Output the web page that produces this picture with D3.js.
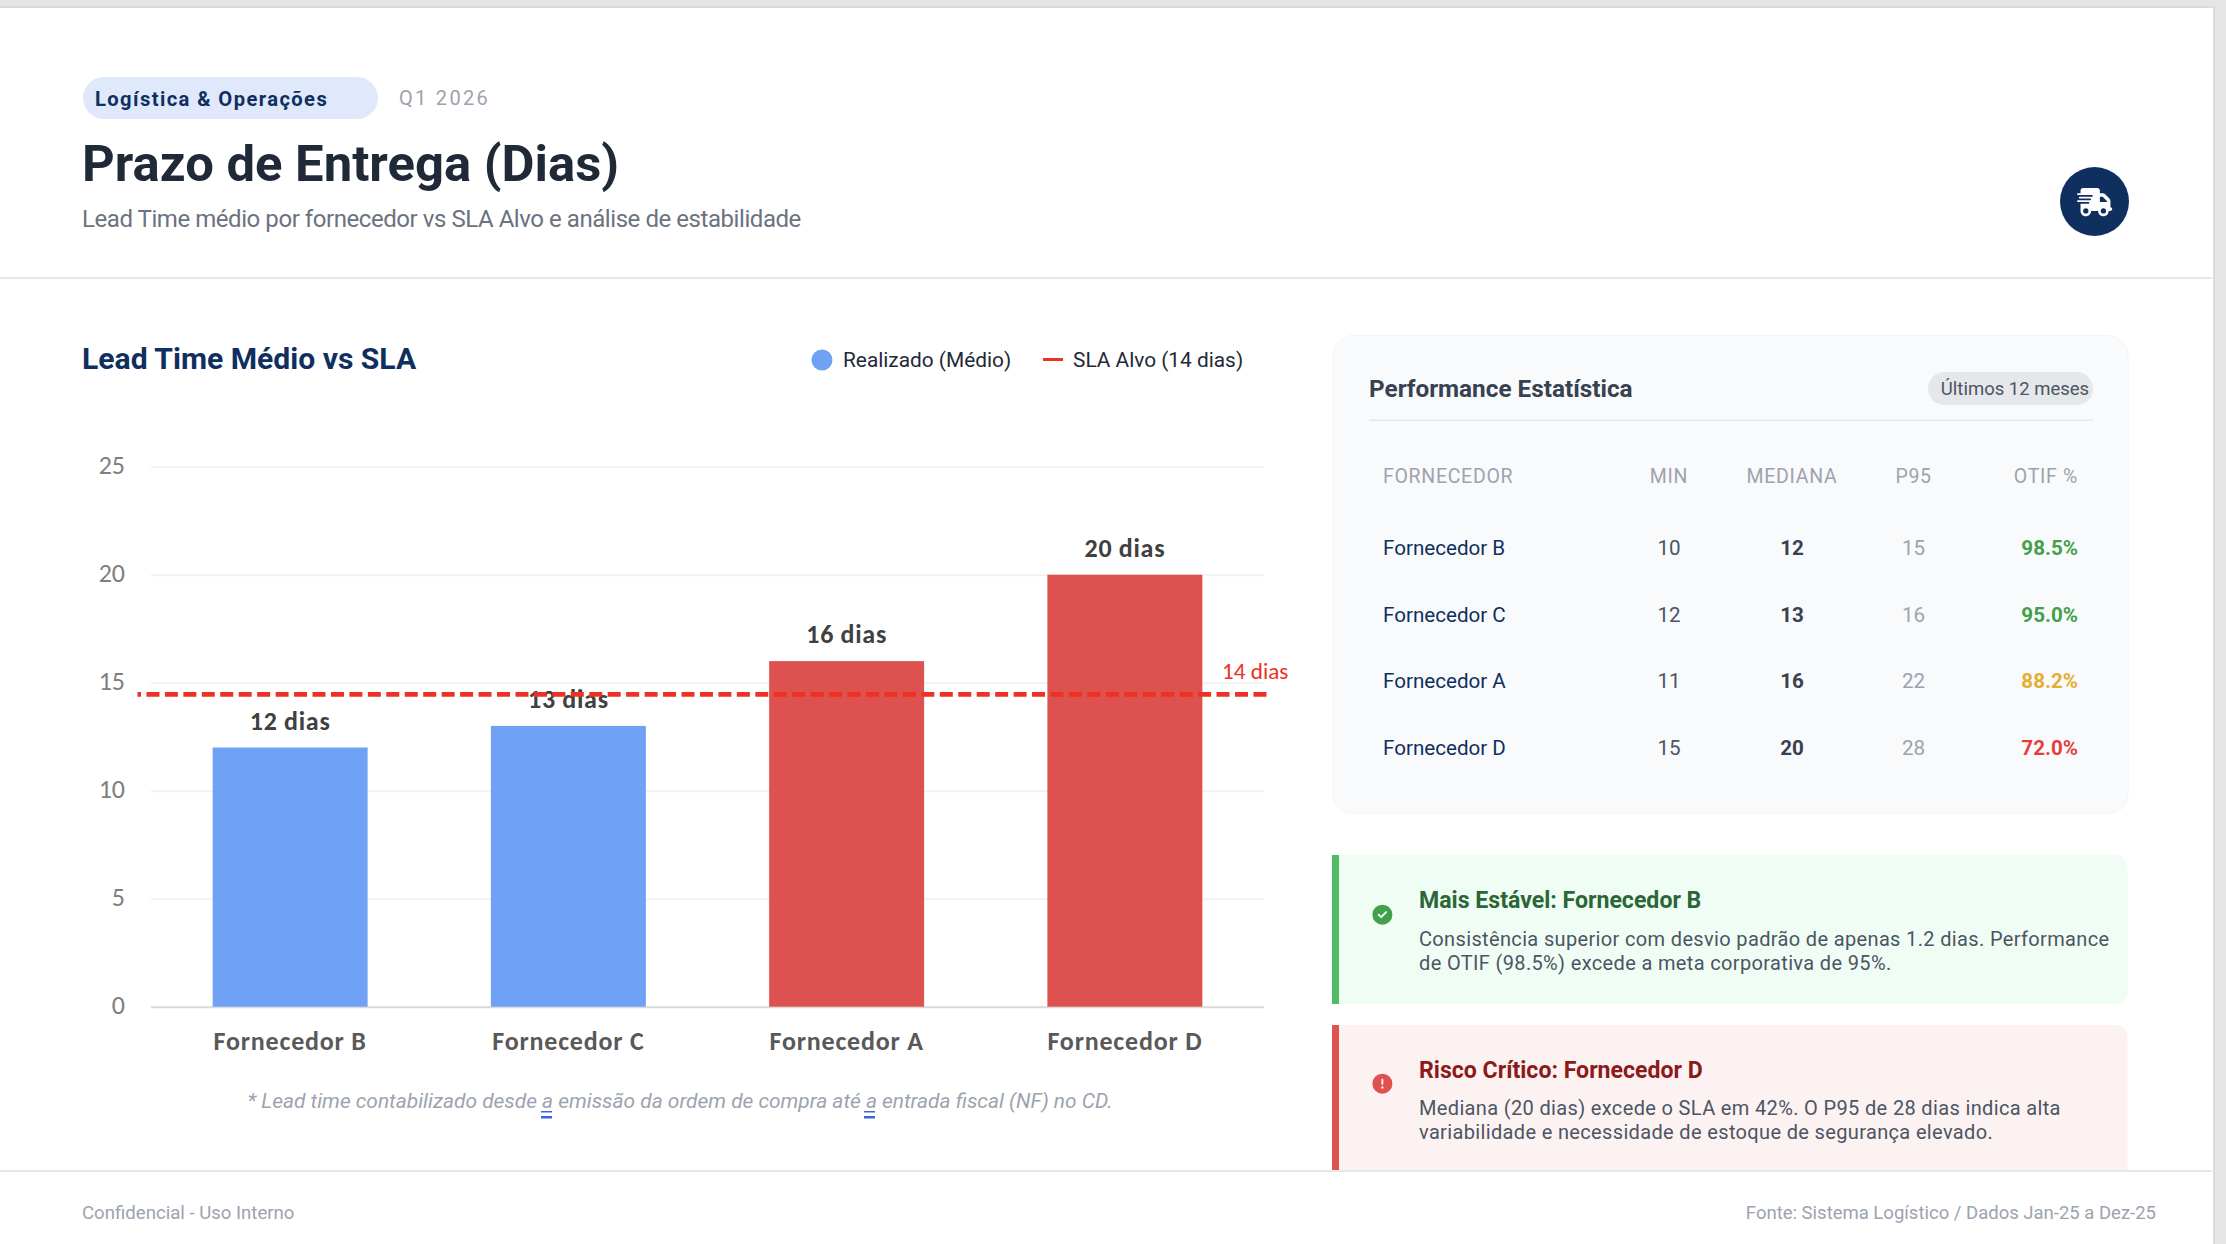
<!DOCTYPE html>
<html lang="pt">
<head>
<meta charset="utf-8">
<title>Prazo de Entrega (Dias)</title>
<script src="https://cdn.jsdelivr.net/npm/d3@7/dist/d3.min.js"></script>
<style>
html,body{margin:0;padding:0;background:#e5e5e5;overflow:hidden}
svg{display:block}
text{font-family:Roboto,sans-serif}
</style>
</head>
<body>
<div id="root"></div>
<script>
// ---- data ----
const suppliers = ["Fornecedor B", "Fornecedor C", "Fornecedor A", "Fornecedor D"];
const leadTimes = [12, 13, 16, 20];
const barColors = ["#6fa2f5", "#6fa2f5", "#dd524e", "#dd524e"];
const yTicks = [0, 5, 10, 15, 20, 25];
const slaLabelValue = 14;
const slaDrawnAt = 14.46;   // where the dashed line sits on the value axis in the picture
const tableHead = ["FORNECEDOR", "MIN", "MEDIANA", "P95", "OTIF %"];
const minDays = [10, 12, 11, 15];
const medianDays = [12, 13, 16, 20];
const p95Days = [15, 16, 22, 28];
const otif = ["98.5%", "95.0%", "88.2%", "72.0%"];
const otifColors = ["#43a04a", "#43a04a", "#e3ae33", "#e53e3e"];

const W = 2226, H = 1244;
const svg = d3.select("#root").append("svg").attr("width", W).attr("height", H).attr("viewBox", `0 0 ${W} ${H}`);

function txt(x, y, s, o = {}) {
  const t = svg.append("text").attr("x", x).attr("y", y).text(s)
    .attr("font-size", o.size || 20).attr("fill", o.fill || "#000")
    .attr("font-weight", o.weight || 400).attr("text-anchor", o.anchor || "start");
  if (o.family) t.style("font-family", o.family);
  if (o.spacing) t.style("letter-spacing", o.spacing + "px");
  if (o.italic) t.attr("font-style", "italic");
  return t;
}
function rect(x, y, w, h, fill, r = 0) {
  return svg.append("rect").attr("x", x).attr("y", y).attr("width", w).attr("height", h).attr("fill", fill).attr("rx", r).attr("ry", r);
}

// page frame
rect(0, 0, W, H, "#e5e5e5");
rect(0, 6, 2215, H - 6, "#dbdbdb");
rect(0, 8, 2213, H - 8, "#ffffff");

// header
rect(83, 77, 295, 42, "#dfe9fb", 21);
txt(95, 106, "Logística & Operações", {size: 20.2, weight: 700, fill: "#0f2f5f", spacing: 1.4});
txt(399, 104.5, "Q1 2026", {size: 20, fill: "#9ca3af", spacing: 2.3});
txt(82, 181, "Prazo de Entrega (Dias)", {size: 50.8, weight: 700, fill: "#1f2937"});
txt(82, 227, "Lead Time médio por fornecedor vs SLA Alvo e análise de estabilidade", {size: 24, fill: "#6b7280", spacing: -0.44});
rect(0, 277, 2212, 2, "#e5e7eb");
svg.append("circle").attr("cx", 2094.5).attr("cy", 201.5).attr("r", 34.5).attr("fill", "#0f2f5f");
svg.append("path").attr("transform", "translate(2077,188) scale(0.055)").attr("fill", "#fff")
  .attr("d", "M112 0C85.5 0 64 21.5 64 48V96H16c-8.8 0-16 7.2-16 16s7.2 16 16 16H64 272c8.8 0 16 7.2 16 16s-7.2 16-16 16H64 48c-8.8 0-16 7.2-16 16s7.2 16 16 16H64 240c8.8 0 16 7.2 16 16s-7.2 16-16 16H64 16c-8.8 0-16 7.2-16 16s7.2 16 16 16H64 208c8.8 0 16 7.2 16 16s-7.2 16-16 16H64V416c0 53 43 96 96 96s96-43 96-96H384c0 53 43 96 96 96s96-43 96-96h32c17.7 0 32-14.3 32-32s-14.3-32-32-32V288 256 237.3c0-17-6.7-33.3-18.7-45.3L512 114.7c-12-12-28.3-18.7-45.3-18.7H416V48c0-26.5-21.5-48-48-48H112zM544 237.3V256H416V160h50.7L544 237.3zM160 368a48 48 0 1 1 0 96 48 48 0 1 1 0-96zm272 48a48 48 0 1 1 96 0 48 48 0 1 1 -96 0z");

// chart title + legend
txt(82, 369, "Lead Time Médio vs SLA", {size: 30.1, weight: 700, fill: "#0f2f5f"});
svg.append("circle").attr("cx", 822).attr("cy", 360).attr("r", 10.5).attr("fill", "#6fa2f5");
txt(843, 367, "Realizado (Médio)", {size: 20.85, fill: "#1f2937"});
rect(1043, 358, 20, 3, "#ef3024");
txt(1073, 367, "SLA Alvo (14 dias)", {size: 20.85, fill: "#1f2937"});

// chart
const plot = {l: 151, r: 1264, t: 466.7, b: 1006.7};
const chartFont = "Carlito, Lato, sans-serif";
const x = d3.scaleBand().domain(suppliers).range([plot.l, plot.r]).paddingInner(0.443).paddingOuter(0.2215);
const y = d3.scaleLinear().domain([0, 25]).range([plot.b, plot.t]);

const gy = svg.append("g").attr("transform", `translate(${plot.l},0)`)
  .call(d3.axisLeft(y).tickValues(yTicks).tickSize(-(plot.r - plot.l)).tickPadding(26).tickFormat(d3.format("d")));
gy.select(".domain").remove();
gy.selectAll(".tick line").attr("stroke", d => d === 0 ? "#d9d9d9" : "#f2f2f2").attr("stroke-width", 2);
gy.selectAll(".tick text").attr("fill", "#7f7f7f").attr("font-size", 26).style("font-family", chartFont).attr("dy", "6.5px");

svg.selectAll("rect.bar").data(suppliers).join("rect").attr("class", "bar")
  .attr("x", d => x(d)).attr("width", x.bandwidth())
  .attr("y", (d, i) => y(leadTimes[i])).attr("height", (d, i) => y(0) - y(leadTimes[i]))
  .attr("fill", (d, i) => barColors[i]);

svg.selectAll("text.vlabel").data(suppliers).join("text").attr("class", "vlabel")
  .attr("x", d => x(d) + x.bandwidth() / 2)
  .attr("y", (d, i) => y(leadTimes[i]) - 18)
  .attr("text-anchor", "middle").attr("font-weight", 700).attr("font-size", 26).attr("fill", "#404040")
  .style("font-family", chartFont).style("letter-spacing", "0.7px")
  .text((d, i) => `${leadTimes[i]} dias`);

const gx = svg.append("g").attr("transform", `translate(0,${plot.b})`)
  .call(d3.axisBottom(x).tickSize(0).tickPadding(43.3));
gx.select(".domain").remove();
gx.selectAll(".tick text").attr("dy", 0).attr("fill", "#595959").attr("font-size", 26).attr("font-weight", 700)
  .style("font-family", chartFont).style("letter-spacing", "0.8px");

// SLA reference line
svg.append("line").attr("x1", 137.5).attr("x2", 1267.5).attr("y1", y(slaDrawnAt)).attr("y2", y(slaDrawnAt))
  .attr("stroke", "#ef3024").attr("stroke-width", 4.8).attr("stroke-dasharray", "13 5.45").attr("stroke-dashoffset", 9.5);
txt(1222, 679, `${slaLabelValue} dias`, {size: 23.2, fill: "#ef3024", family: chartFont});

// footnote
txt(680, 1108, "* Lead time contabilizado desde a emissão da ordem de compra até a entrada fiscal (NF) no CD.",
  {size: 20.9, fill: "#9ca3af", italic: true, anchor: "middle"});
[541, 864].forEach(px => {
  rect(px, 1111, 11, 1.5, "#3b68d8");
  rect(px, 1116, 11, 2.5, "#3b68d8");
});

// statistics card
rect(1333, 335.5, 795, 478, "#f9fafb", 20).attr("stroke", "#f3f4f6").attr("stroke-width", 1);
txt(1369, 397, "Performance Estatística", {size: 24.3, weight: 700, fill: "#374151"});
rect(1928, 372, 165, 33, "#e5e7eb", 16.5);
txt(2015, 395, "Últimos 12 meses", {size: 18.5, fill: "#4b5563", anchor: "middle"});
rect(1369, 419.5, 724, 1.5, "#e5e7eb");

const colX = [1383, 1669, 1792, 1913.6, 2078];
const colAnchor = ["start", "middle", "middle", "middle", "end"];
tableHead.forEach((h, i) => txt(colX[i], 483, h, {size: 19.5, fill: "#9ca3af", anchor: colAnchor[i], spacing: 0.7}));
const rowY = [554.5, 621.5, 688, 754.5];
suppliers.forEach((s, i) => {
  txt(colX[0], rowY[i], s, {size: 20.6, fill: "#0f2f5f"});
  txt(colX[1], rowY[i], minDays[i], {size: 20.6, fill: "#4b5563", anchor: "middle"});
  txt(colX[2], rowY[i], medianDays[i], {size: 20.6, weight: 700, fill: "#374151", anchor: "middle"});
  txt(colX[3], rowY[i], p95Days[i], {size: 20.6, fill: "#9ca3af", anchor: "middle"});
  txt(colX[4], rowY[i], otif[i], {size: 20.6, weight: 700, fill: otifColors[i], anchor: "end"});
});

// callouts
const clip = svg.append("defs").append("clipPath").attr("id", "pageclip");
clip.append("rect").attr("x", 0).attr("y", 0).attr("width", W).attr("height", 1170);
function callout(top, h, fill, barFill, iconFill, icon, iconY, title, titleFill, lines, bodyY) {
  const g = svg.append("g").attr("clip-path", "url(#pageclip)");
  g.append("path").attr("fill", fill)
    .attr("d", `M1332 ${top}H2115.5a12 12 0 0 1 12 12V${top + h - 12}a12 12 0 0 1 -12 12H1332Z`);
  g.append("rect").attr("x", 1332).attr("y", top).attr("width", 7).attr("height", h).attr("fill", barFill);
  svg.append("path").attr("transform", `translate(1372.4,${iconY - 10}) scale(0.039)`).attr("fill", iconFill).attr("d", icon);
  txt(1419, top + 53, title, {size: 23.1, weight: 700, fill: titleFill});
  lines.forEach((l, i) => txt(1419, bodyY + i * 24, l, {size: 20, fill: "#4b5563", spacing: 0.35}));
}
callout(855, 149, "#f0fdf4", "#4fbb62", "#43a04a",
  "M256 512A256 256 0 1 0 256 0a256 256 0 1 0 0 512zM369 209L241 337c-9.4 9.4-24.6 9.4-33.9 0l-64-64c-9.4-9.4-9.4-24.6 0-33.9s24.6-9.4 33.9 0l47 47L335 175c9.4-9.4 24.6-9.4 33.9 0s9.4 24.6 0 33.9z",
  914.7, "Mais Estável: Fornecedor B", "#2b6636",
  ["Consistência superior com desvio padrão de apenas 1.2 dias. Performance", "de OTIF (98.5%) excede a meta corporativa de 95%."], 946);
callout(1025, 160, "#fdf2f2", "#e0524f", "#e0524f",
  "M256 512A256 256 0 1 0 256 0a256 256 0 1 0 0 512zm0-384c13.3 0 24 10.7 24 24V264c0 13.3-10.7 24-24 24s-24-10.7-24-24V152c0-13.3 10.7-24 24-24zM224 352a32 32 0 1 1 64 0 32 32 0 1 1 -64 0z",
  1083.7, "Risco Crítico: Fornecedor D", "#8b1a1a",
  ["Mediana (20 dias) excede o SLA em 42%. O P95 de 28 dias indica alta", "variabilidade e necessidade de estoque de segurança elevado."], 1115);

// footer
rect(0, 1170, 2212, 2, "#e5e7eb");
txt(82, 1218.5, "Confidencial - Uso Interno", {size: 18.6, fill: "#9ca3af"});
txt(2156, 1218.5, "Fonte: Sistema Logístico / Dados Jan-25 a Dez-25", {size: 18.5, fill: "#9ca3af", anchor: "end"});
</script>
</body>
</html>
